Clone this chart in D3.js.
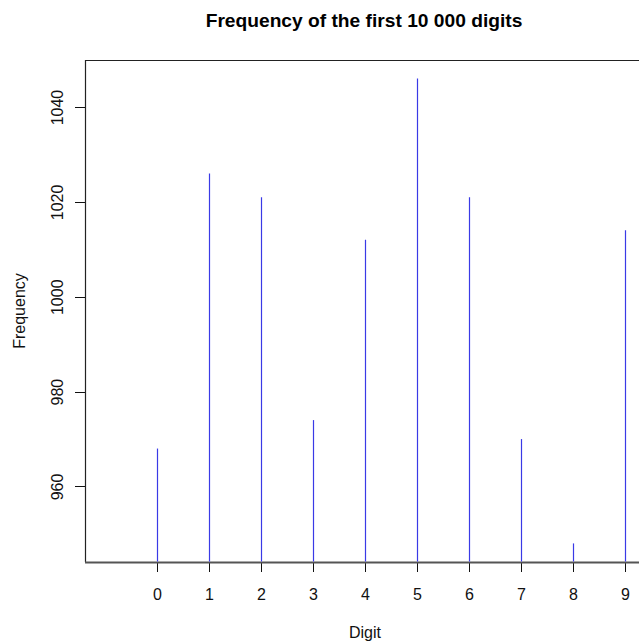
<!DOCTYPE html>
<html>
<head>
<meta charset="utf-8">
<script src="https://cdn.jsdelivr.net/npm/d3@7"></script>
<style>
  html, body { margin: 0; padding: 0; background: #fff; }
  svg { display: block; }
  text { font-family: "Liberation Sans", Arial, sans-serif; }
</style>
</head>
<body>
<svg id="chart" width="639" height="641"></svg>
<script>
const digits = [0, 1, 2, 3, 4, 5, 6, 7, 8, 9];
const frequencies = [968, 1026, 1021, 974, 1012, 1046, 1021, 970, 948, 1014];
const yTickValues = [960, 980, 1000, 1020, 1040];
const titleText = "Frequency of the first 10 000 digits";
const xLabel = "Digit";
const yLabel = "Frequency";

const svg = d3.select("#chart");
const mLeft = 85, mTop = 60, mBottom = 562, mRight = 700;
const FONT = "Liberation Sans, Arial, sans-serif";

// x: 0 -> 157, 9 -> 625
const x = d3.scaleLinear().domain([0, 9]).range([157, 625]);
const y = d3.scaleLinear().domain([944.08, 1049.92]).range([mBottom, mTop]);

// box (left, top; right is cut off)
svg.append("path")
  .attr("d", `M${mRight},${mTop + 0.5}H${mLeft + 0.5}V${mBottom}`)
  .attr("fill", "none").attr("stroke", "#222").attr("stroke-width", 1.2);

// x axis
const xAxis = d3.axisBottom(x).tickValues(digits).tickSize(10).tickPadding(0).tickFormat(d3.format("d"));
const gx = svg.append("g").attr("transform", `translate(0,${mBottom})`).call(xAxis);
gx.attr("font-size", null).attr("font-family", null);
gx.select(".domain").remove();
gx.append("line").attr("x1", mLeft).attr("x2", mRight).attr("y1", 0.5).attr("y2", 0.5)
  .attr("stroke", "#555").attr("stroke-width", 1.8);
gx.selectAll(".tick line").attr("stroke", "#111").attr("shape-rendering", "crispEdges");
gx.selectAll(".tick text")
  .attr("y", 38).attr("dy", null)
  .style("font-size", "16px").style("font-family", FONT).attr("fill", "#111");

// bars (type "h")
svg.append("g").selectAll("line").data(digits).join("line")
  .attr("x1", d => Math.round(x(d)) + 0.5)
  .attr("x2", d => Math.round(x(d)) + 0.5)
  .attr("y1", y(944.08) - 0.5)
  .attr("y2", (d, i) => y(frequencies[i]))
  .style("stroke", "#3a3ae6")
  .style("stroke-width", "1.2px");

// y axis
const yAxis = d3.axisLeft(y).tickValues(yTickValues).tickSize(10).tickPadding(0).tickFormat(d3.format("d"));
const gy = svg.append("g").attr("transform", `translate(${mLeft},0)`).call(yAxis);
gy.attr("font-size", null).attr("font-family", null);
gy.select(".domain").remove();
gy.selectAll(".tick line").attr("stroke", "#111").attr("shape-rendering", "crispEdges");
gy.selectAll(".tick text")
  .style("font-size", "16px").style("font-family", FONT).attr("fill", "#111")
  .attr("x", null).attr("dy", null)
  .attr("text-anchor", "middle")
  .attr("transform", "translate(-22.5,0) rotate(-90)");

// title
svg.append("text").attr("x", 364).attr("y", 27)
  .attr("text-anchor", "middle").style("font-size", "19.2px").attr("font-weight", "bold")
  .attr("fill", "#000").text(titleText);

// x label
svg.append("text").attr("x", 365).attr("y", 638)
  .attr("text-anchor", "middle").style("font-size", "16px").attr("fill", "#111").text(xLabel);

// y label
svg.append("text").attr("transform", `translate(25,${(mTop + mBottom) / 2}) rotate(-90)`)
  .attr("text-anchor", "middle").style("font-size", "16px").attr("fill", "#111").text(yLabel);
</script>
</body>
</html>
